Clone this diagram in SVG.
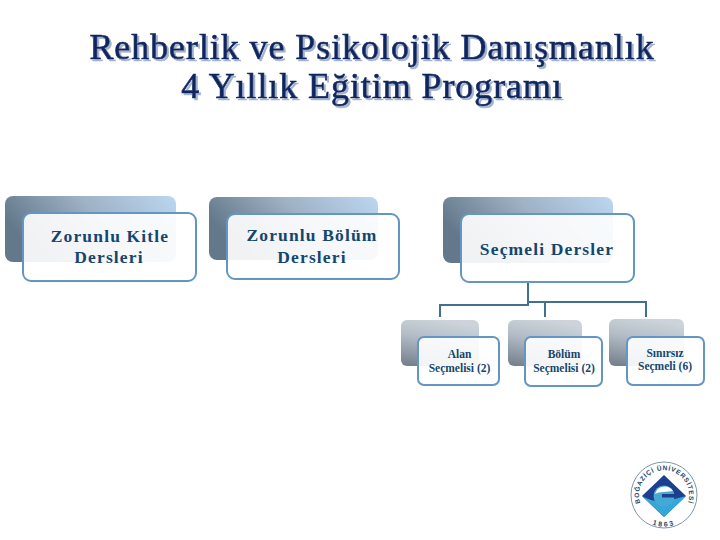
<svg xmlns="http://www.w3.org/2000/svg" width="720" height="540" viewBox="0 0 720 540">
<style>
text{font-family:"Liberation Serif","Times New Roman",serif;text-anchor:middle}
.title{font-size:36px;fill:#10265f;stroke:#10265f;stroke-width:.65px;letter-spacing:.92px;filter:url(#ts)}
.big{font-size:17.5px;fill:#14466f;font-weight:bold;letter-spacing:1.15px}
.small{font-size:11.5px;fill:#14466f;font-weight:bold}
.front{fill:#fff;fill-opacity:.9;stroke:#6496c3;stroke-width:2}
.conn{fill:none;stroke:#42718f;stroke-width:2}
.logot{font-family:"Liberation Sans",Arial,sans-serif;font-weight:bold;fill:#23466b}
</style>
<defs>
<filter id="ts" x="-5%" y="-20%" width="110%" height="140%"><feDropShadow dx="2" dy="2" stdDeviation=".6" flood-color="#a3b3cf"/></filter>
<linearGradient id="bg1" x1="0" y1=".35" x2="1" y2="0"><stop offset="0" stop-color="#64788b"/><stop offset=".5" stop-color="#9fb2c6"/><stop offset="1" stop-color="#bcd7f1"/></linearGradient>
<linearGradient id="bg2" x1=".2" y1="1" x2=".5" y2="0"><stop offset="0" stop-color="#76838f"/><stop offset=".6" stop-color="#b4bdc7"/><stop offset="1" stop-color="#ccd3da"/></linearGradient>
<path id="logoTop" d="M642 507A25 25 0 1 1 686 507"/>
<path id="logoBottom" d="M646 521A31.600 31.600 0 0 0 682 521"/>
</defs>
<rect width="720" height="540" fill="#fff"/>
<g id="title">
<text class="title" x="372" y="59">Rehberlik ve Psikolojik Danışmanlık</text>
<text class="title" x="372" y="98">4 Yıllık Eğitim Programı</text>
</g>
<g id="connectors">
<path class="conn" d="M528 282V303M440 317V305H528V302H646V317M545 302V317"/>
</g>
<g id="node-kitle">
<rect x="5" y="196" width="171" height="66" rx="8" fill="url(#bg1)"/>
<rect class="front" x="23" y="213" width="173" height="68" rx="8"/>
<text class="big" x="110" y="242">Zorunlu Kitle</text>
<text class="big" x="109" y="263">Dersleri</text>
</g>
<g id="node-bolum">
<rect x="209" y="197" width="169" height="63" rx="8" fill="url(#bg1)"/>
<rect class="front" x="227" y="214" width="172" height="65" rx="8"/>
<text class="big" x="312" y="241">Zorunlu Bölüm</text>
<text class="big" x="312" y="263">Dersleri</text>
</g>
<g id="node-secmeli">
<rect x="443" y="197" width="170" height="66" rx="8" fill="url(#bg1)"/>
<rect class="front" x="461" y="214" width="173" height="68" rx="8"/>
<text class="big" x="547" y="255">Seçmeli Dersler</text>
</g>
<g id="node-alan">
<rect x="401" y="320" width="78" height="46" rx="6" fill="url(#bg2)"/>
<rect class="front" x="418" y="337" width="81" height="48" rx="6"/>
<text class="small" x="459.500" y="358">Alan</text>
<text class="small" x="459.500" y="372">Seçmelisi (2)</text>
</g>
<g id="node-bolum-secmeli">
<rect x="508" y="320" width="74" height="46" rx="6" fill="url(#bg2)"/>
<rect class="front" x="525" y="337" width="77" height="49" rx="6"/>
<text class="small" x="564" y="358">Bölüm</text>
<text class="small" x="564" y="372">Seçmelisi (2)</text>
</g>
<g id="node-sinirsiz">
<rect x="609" y="319" width="75" height="47" rx="6" fill="url(#bg2)"/>
<rect class="front" x="627" y="337" width="77" height="48" rx="6"/>
<text class="small" x="665" y="357">Sınırsız</text>
<text class="small" x="665" y="370">Seçmeli (6)</text>
</g>
<g id="logo">
<circle cx="664" cy="495" r="33" fill="#fff" stroke="#7d95aa" stroke-width="1"/>
<text class="logot" font-size="6.500" letter-spacing=".75"><textPath href="#logoTop" startOffset="50%">BOĞAZİÇİ ÜNİVERSİTESİ</textPath></text>
<text class="logot" font-size="7" letter-spacing="2"><textPath href="#logoBottom" startOffset="50%">1863</textPath></text>
<path d="M664 475L686 496L664 517L642 496Z" fill="#1d3f8f"/>
<path d="M642 496Q654 503 664 501Q676 499 686 496L664 517Z" fill="#35a6d8"/>
<circle cx="664" cy="496" r="10.500" fill="#45a9d6"/>
<path d="M655 494A10 10 0 0 1 673 491L664 492Q658 492 655 494Z" fill="#fff"/>
<rect x="662" y="494" width="13" height="3.500" fill="#1d3f8f"/>
</g>
</svg>
